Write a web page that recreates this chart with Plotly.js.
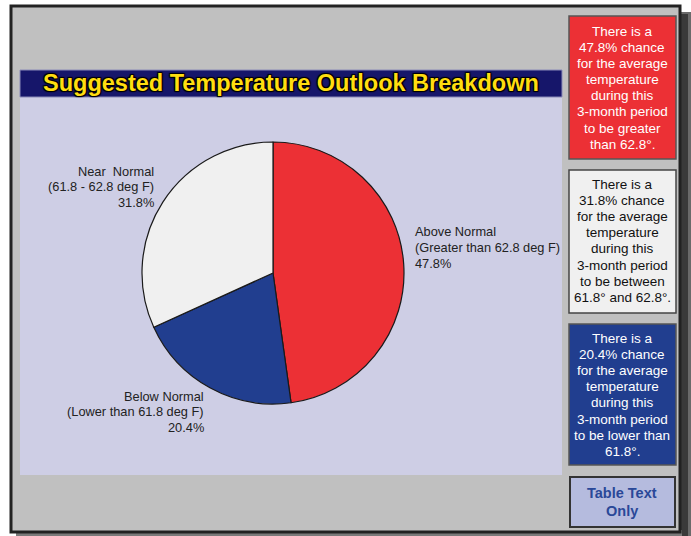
<!DOCTYPE html>
<html><head><meta charset="utf-8">
<script src="https://cdn.plot.ly/plotly-3.0.1.min.js"></script>
<style>html,body{margin:0;padding:0;background:#fff}</style>
</head><body><div id="chart" style="width:691px;height:536px"></div>
<script>
// ---- data ----
const categories = ["Above Normal", "Below Normal", "Near Normal"];
const rangeLabels = ["(Greater than 62.8 deg F)", "(Lower than 61.8 deg F)", "(61.8 - 62.8 deg F)"];
const percents = [47.8, 20.4, 31.8];
const sliceColors = ["#ec3035", "#213e8f", "#f0f0f0"];
const chartTitle = "Suggested Temperature Outlook Breakdown";
const redBoxLines = ["There is a", "47.8% chance", "for the average", "temperature", "during this", "3-month period", "to be greater", "than 62.8°."];
const whiteBoxLines = ["There is a", "31.8% chance", "for the average", "temperature", "during this", "3-month period", "to be between", "61.8° and 62.8°."];
const blueBoxLines = ["There is a", "20.4% chance", "for the average", "temperature", "during this", "3-month period", "to be lower than", "61.8°."];
const buttonLines = ["Table Text", "Only"];

// ---- helpers (pixel -> paper) ----
const W = 691, H = 536;
const px = x => x / W, py = y => 1 - y / H;
const FONT = 'Liberation Sans, Arial, sans-serif';
function rect(x0, y0, x1, y1, fill, line, lw) {
  return {type: 'rect', xref: 'paper', yref: 'paper', layer: 'below',
    x0: px(x0), x1: px(x1), y0: py(y1), y1: py(y0),
    fillcolor: fill, line: {color: line || 'rgba(0,0,0,0)', width: lw || 0}};
}

const shapes = [
  rect(676, 12, 691, 536, '#6a6a6a'),
  rect(680, 14, 688, 536, '#3a3a3a'),
  rect(16, 530, 682, 536, '#7a7a7a'),
  rect(11, 6, 680, 532, '#c0c0c0', '#222', 3),
  rect(20, 70, 562, 475, '#cecee5'),
  rect(20, 70, 562, 97, '#16166a', '#8a8ab8', 1),
  rect(569, 16, 676, 159, '#ec3035', '#555', 1.5),
  rect(569, 170, 676, 313, '#f0f0f0', '#444', 1.5),
  rect(569, 324, 676, 465, '#213e8f', '#555', 1.5),
  rect(570, 477, 675, 527, '#b5bbde', '#333', 2)
];

const ann = [];
function addLines(lines, x, y0, dy, anchor, color, size, bold) {
  lines.forEach((t, k) => ann.push({text: t, xref: 'paper', yref: 'paper', x: px(x), y: py(y0 + k * dy),
    xanchor: anchor, yanchor: 'middle', showarrow: false,
    font: {family: FONT, size: size, color: color, weight: bold ? 'bold' : 'normal'}}));
}

ann.push({text: chartTitle, xref: 'paper', yref: 'paper', x: px(291), y: py(83), showarrow: false,
  xanchor: 'center', yanchor: 'middle',
  font: {family: FONT, size: 23.5, color: '#ffdd10', weight: 'bold',
         shadow: '1px 1px 1px #000, -1px -1px 1px #000, 1px -1px 1px #000, -1px 1px 1px #000'}});

// pie labels
const labelPos = [
  {x: 413, y: 232, anchor: 'left'},
  {x: 206, y: 396, anchor: 'right'},
  {x: 156, y: 171, anchor: 'right'}
];
categories.forEach((c, i) => {
  const name = c === 'Near Normal' ? 'Near\u00a0\u00a0Normal' : c;
  addLines([name, rangeLabels[i], percents[i].toFixed(1) + '%'], labelPos[i].x, labelPos[i].y, 15.5,
    labelPos[i].anchor, '#222', 12.8);
});

addLines(redBoxLines, 622, 31, 16.2, 'center', '#ffffff', 13.5);
addLines(whiteBoxLines, 622, 184, 16.2, 'center', '#111111', 13.5);
addLines(blueBoxLines, 622, 338, 16.2, 'center', '#ffffff', 13.5);
addLines(buttonLines, 622, 493, 18, 'center', '#2a4898', 14.5, true);

const cx = 273, cy = 273, r = 131;
const trace = {
  type: 'pie', labels: categories, values: percents, sort: false, direction: 'clockwise', rotation: 0,
  marker: {colors: sliceColors, line: {color: '#1a1a1a', width: 1.2}},
  textinfo: 'none', hoverinfo: 'label+percent', showlegend: false,
  domain: {x: [px(cx - r), px(cx + r)], y: [py(cy + r), py(cy - r)]}
};

Plotly.newPlot('chart', [trace], {
  width: W, height: H, margin: {l: 0, r: 0, t: 0, b: 0}, paper_bgcolor: '#ffffff',
  shapes: shapes, annotations: ann, showlegend: false
}, {displayModeBar: false, staticPlot: true});
</script></body></html>
